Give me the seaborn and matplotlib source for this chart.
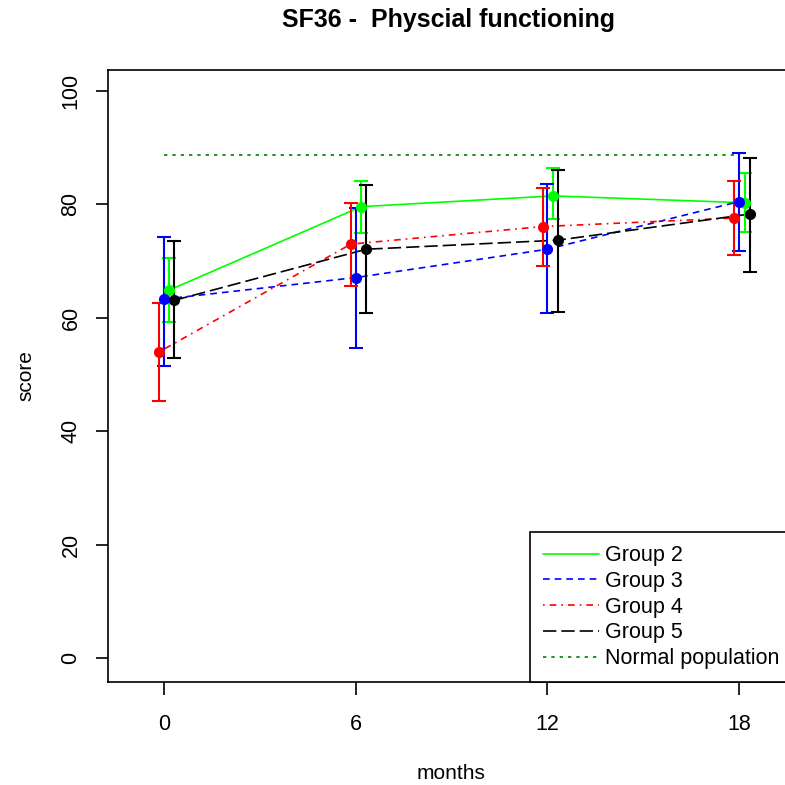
import numpy as np
import pandas as pd
import seaborn as sns
import matplotlib
matplotlib.use("Agg")
import matplotlib.pyplot as plt

months = [0, 6, 12, 18]
groups = ["Group 2", "Group 3", "Group 4", "Group 5"]

g2_mean = [64.9, 79.6, 81.5, 80.3]
g2_low = [59.3, 74.9, 77.4, 75.2]
g2_high = [70.5, 84.1, 86.4, 85.5]

g3_mean = [63.3, 67.1, 72.1, 80.5]
g3_low = [51.6, 54.6, 60.8, 71.8]
g3_high = [74.2, 79.3, 83.6, 89.1]

g4_mean = [54.0, 73.0, 76.1, 77.6]
g4_low = [45.4, 65.6, 69.2, 71.1]
g4_high = [62.7, 80.2, 82.9, 84.2]

g5_mean = [63.1, 72.1, 73.7, 78.3]
g5_low = [52.9, 60.8, 61.1, 68.0]
g5_high = [73.6, 83.5, 86.1, 88.1]

normal_pop = 88.7

colors = {"Group 2": "#00ff00", "Group 3": "#0000ff", "Group 4": "#ff0000", "Group 5": "#000000"}
dashes = {"Group 2": "", "Group 3": (4, 3), "Group 4": (1, 3, 4, 3), "Group 5": (8, 3)}
offsets = {"Group 2": 0.17, "Group 3": 0.0, "Group 4": -0.15, "Group 5": 0.33}

rows = []
for name, m, lo, hi in zip(groups, [g2_mean, g3_mean, g4_mean, g5_mean],
                           [g2_low, g3_low, g4_low, g5_low],
                           [g2_high, g3_high, g4_high, g5_high]):
    for t, a, b, c in zip(months, m, lo, hi):
        rows.append({"group": name, "month": t + offsets[name], "score": a, "low": b, "high": c})
df = pd.DataFrame(rows)

sns.set_style("white")
plt.rcParams["font.family"] = ["Liberation Sans", "DejaVu Sans"]
plt.rcParams["text.color"] = "black"
plt.rcParams["axes.labelcolor"] = "black"

FS = 15.5

fig = plt.figure(figsize=(7.85, 7.85), dpi=100)
ax = fig.add_axes([108 / 785, 103 / 785, 687 / 785, 612 / 785])

# normal population reference
ax.plot([0, 18], [normal_pop, normal_pop], color="#008000", lw=1.2,
        linestyle=(0, (2, 3)), zorder=1)

sns.lineplot(data=df, x="month", y="score", hue="group", style="group",
             palette=colors, dashes=dashes, lw=1.2, ax=ax, legend=False,
             hue_order=groups, style_order=groups, zorder=2)

for name in groups:
    d = df[df.group == name]
    ax.errorbar(d["month"], d["score"],
                yerr=[d["score"] - d["low"], d["high"] - d["score"]],
                fmt="o", color=colors[name], ms=7, capsize=5, elinewidth=1.5,
                capthick=1.5, zorder=3)

handles = [plt.Line2D([], [], color=colors[g], lw=1.2, linestyle=(0, dashes[g]) if dashes[g] else "-")
           for g in groups]
handles.append(plt.Line2D([], [], color="#008000", lw=1.2, linestyle=(0, (2, 3))))
leg = ax.legend(handles, groups + ["Normal population"], loc="lower left", mode="expand",
                bbox_to_anchor=(422 / 687, 0, 300 / 687, 0.2), borderaxespad=0, fancybox=False,
                edgecolor="black", fontsize=FS, handlelength=2.6, handletextpad=0.3,
                labelspacing=0.22, borderpad=0.6, framealpha=1)
leg.get_frame().set_linewidth(1.2)

ax.set_xlim(-1.75, 19.75)
ax.set_ylim(-4.2, 103.7)
ax.set_xticks(months)
ax.set_yticks([0, 20, 40, 60, 80, 100])
ax.tick_params(axis="both", direction="out", length=9, width=1.2, labelsize=FS, colors="black", pad=14)
ax.tick_params(axis="y", pad=10)
ax.tick_params(left=True, bottom=True)
for lab in ax.get_yticklabels():
    lab.set_rotation(90)
    lab.set_va("center")
for s in ax.spines.values():
    s.set_color("black")
    s.set_linewidth(1.2)

ax.set_xlabel("months", fontsize=15, labelpad=21)
ax.set_ylabel("score", fontsize=15, labelpad=18)
fig.text(448 / 785, 1 - 20 / 785, "SF36 -  Physcial functioning", ha="center", va="center",
         fontsize=18, fontweight="bold")

fig.savefig("out.png", dpi=100)
